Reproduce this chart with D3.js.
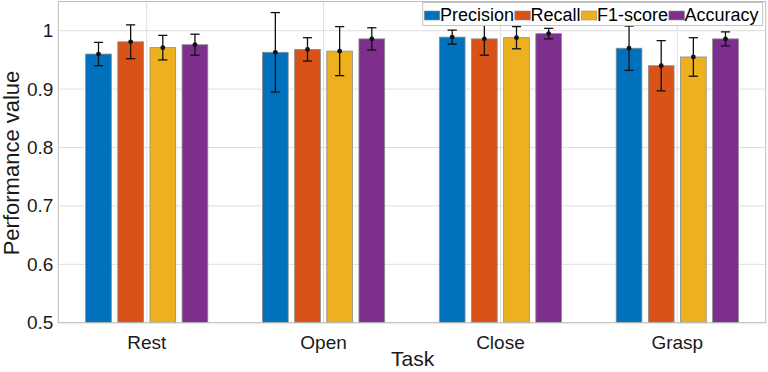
<!DOCTYPE html>
<html>
<head>
<meta charset="utf-8">
<script src="https://cdn.jsdelivr.net/npm/d3@7"></script>
<style>
  html, body { margin: 0; padding: 0; background: #fff; }
  svg { display: block; font-family: "Liberation Sans", Arial, sans-serif; }
</style>
</head>
<body>
<svg id="chart" width="768" height="372"></svg>
<script>
// ---- data ----
const categories = ["Rest", "Open", "Close", "Grasp"];
const seriesNames = ["Precision", "Recall", "F1-score", "Accuracy"];
const precision = [0.960, 0.963, 0.989, 0.970];
const recall    = [0.981, 0.968, 0.986, 0.940];
const f1score   = [0.971, 0.965, 0.988, 0.955];
const accuracy  = [0.976, 0.986, 0.995, 0.986];
const precisionErr = [0.020, 0.068, 0.012, 0.038];
const recallErr    = [0.029, 0.020, 0.028, 0.043];
const f1scoreErr   = [0.021, 0.042, 0.019, 0.033];
const accuracyErr  = [0.018, 0.019, 0.009, 0.012];
const yTicks = [0.5, 0.6, 0.7, 0.8, 0.9, 1.0];
const yTickLabels = ["0.5", "0.6", "0.7", "0.8", "0.9", "1"];
const colors = ["#0072BD", "#D95319", "#EDB120", "#7E2F8E"];

const seriesValues = [precision, recall, f1score, accuracy];
const seriesErrors = [precisionErr, recallErr, f1scoreErr, accuracyErr];

const rows = [];
categories.forEach((c, ci) => {
  seriesNames.forEach((s, si) => {
    rows.push({cat: c, series: s, si, value: seriesValues[si][ci], err: seriesErrors[si][ci]});
  });
});

// ---- layout ----
const L = 58.3, R = 765.7, T = 1.5, B = 322.7;
const svg = d3.select("#chart");

const y = d3.scaleLinear().domain([0.5, 1.05]).range([B, T]);
const x0 = d3.scaleBand().domain(categories).range([L, R]).padding(0);
const half = x0.bandwidth() * 0.3636;
const x1 = d3.scaleBand().domain(seriesNames).range([-half, half]).paddingInner(0.2).paddingOuter(0.1);

// grid
const grid = svg.append("g");
grid.selectAll("line.h").data(yTicks).join("line")
  .attr("x1", L).attr("x2", R)
  .attr("y1", d => y(d)).attr("y2", d => y(d))
  .attr("stroke", "#dedede").attr("stroke-width", 1);
grid.selectAll("line.v").data(categories).join("line")
  .attr("x1", d => x0(d) + x0.bandwidth() / 2).attr("x2", d => x0(d) + x0.bandwidth() / 2)
  .attr("y1", T).attr("y2", B)
  .attr("stroke", "#dedede").attr("stroke-width", 1);

// bars
const bars = svg.append("g");
bars.selectAll("rect").data(rows).join("rect")
  .attr("x", d => x0(d.cat) + x0.bandwidth() / 2 + x1(d.series))
  .attr("width", x1.bandwidth())
  .attr("y", d => y(d.value))
  .attr("height", d => y(0.5) - y(d.value))
  .attr("fill", d => colors[d.si])
  .attr("stroke", "#8c8c8c").attr("stroke-width", 0.8);

// axes box
svg.append("rect").attr("x", L).attr("y", T).attr("width", R - L).attr("height", B - T)
  .attr("fill", "none").attr("stroke", "#bdbdbd").attr("stroke-width", 1);

// y axis labels
const yAxis = d3.axisLeft(y).tickValues(yTicks).tickFormat((d, i) => yTickLabels[i]).tickSize(0).tickPadding(5);
const gy = svg.append("g").attr("transform", `translate(${L},0)`).call(yAxis);
gy.select(".domain").remove();
gy.selectAll("text").attr("font-size", 19).attr("fill", "#1a1a1a")
  .attr("font-family", "Liberation Sans, Arial, sans-serif");

// x axis labels
const xAxis = d3.axisBottom(x0).tickSize(0).tickPadding(13);
const gx = svg.append("g").attr("transform", `translate(0,${B})`).call(xAxis);
gx.select(".domain").remove();
gx.selectAll("text").attr("font-size", 19).attr("fill", "#1a1a1a")
  .attr("font-family", "Liberation Sans, Arial, sans-serif");

// error bars
const eb = svg.append("g");
const cx = d => x0(d.cat) + x0.bandwidth() / 2 + x1(d.series) + x1.bandwidth() / 2;
eb.selectAll("line.stem").data(rows).join("line")
  .attr("x1", cx).attr("x2", cx)
  .attr("y1", d => y(d.value + d.err)).attr("y2", d => y(d.value - d.err))
  .attr("stroke", "#111").attr("stroke-width", 1.3);
eb.selectAll("line.capt").data(rows).join("line")
  .attr("x1", d => cx(d) - 4.6).attr("x2", d => cx(d) + 4.6)
  .attr("y1", d => y(d.value + d.err)).attr("y2", d => y(d.value + d.err))
  .attr("stroke", "#111").attr("stroke-width", 1.3);
eb.selectAll("line.capb").data(rows).join("line")
  .attr("x1", d => cx(d) - 4.6).attr("x2", d => cx(d) + 4.6)
  .attr("y1", d => y(d.value - d.err)).attr("y2", d => y(d.value - d.err))
  .attr("stroke", "#111").attr("stroke-width", 1.3);
eb.selectAll("circle").data(rows).join("circle")
  .attr("cx", cx).attr("cy", d => y(d.value)).attr("r", 2.4).attr("fill", "#111");

// axis titles
svg.append("text").attr("x", 412.7).attr("y", 366).attr("text-anchor", "middle")
  .attr("font-size", 21).attr("fill", "#1a1a1a").text("Task");
svg.append("text").attr("transform", `translate(18.5,163) rotate(-90)`)
  .attr("text-anchor", "middle").attr("font-size", 22).attr("fill", "#1a1a1a").text("Performance value");

// legend
const lg = svg.append("g");
const lgBox = lg.append("rect").attr("y", 2.5).attr("height", 23)
  .attr("fill", "#fff").attr("stroke", "#c4c4c4").attr("stroke-width", 1);
let lx = 424.3;
seriesNames.forEach((s, i) => {
  lg.append("rect").attr("x", lx).attr("y", 11).attr("width", 15.5).attr("height", 9)
    .attr("fill", colors[i]).attr("stroke", "#8c8c8c").attr("stroke-width", 0.6);
  const t = lg.append("text").attr("x", lx + 15.7).attr("y", 20.6)
    .attr("font-size", 18).attr("fill", "#000").text(s);
  lx = lx + 15.7 + t.node().getComputedTextLength() + 0.8;
});
lgBox.attr("x", 422.7).attr("width", Math.max(lx + 1, 762.7) - 422.7);
</script>
</body>
</html>
